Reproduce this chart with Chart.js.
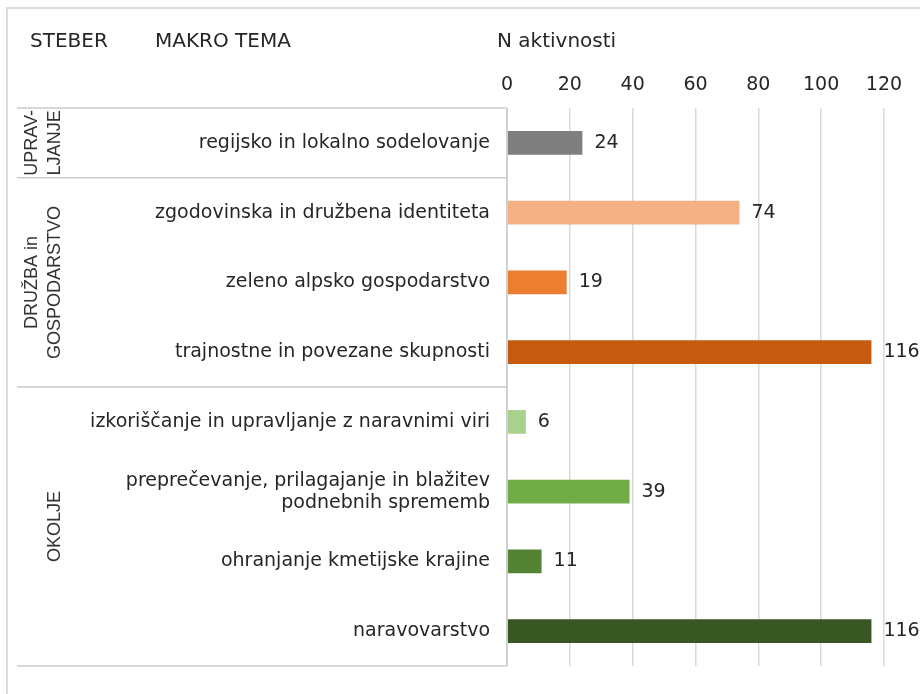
<!DOCTYPE html>
<html>
<head>
<meta charset="utf-8">
<script src="https://cdn.jsdelivr.net/npm/chart.js@4/dist/chart.umd.min.js"></script>
<style>
  body { margin: 0; background: #fff; }
  #wrap { width: 920px; height: 694px; position: relative; }
</style>
</head>
<body>
<div id="wrap"><canvas id="aktChart" width="920" height="694"></canvas></div>
<script>
// makro teme, po stebrih
var categories = [
  'regijsko in lokalno sodelovanje',
  'zgodovinska in družbena identiteta',
  'zeleno alpsko gospodarstvo',
  'trajnostne in povezane skupnosti',
  'izkoriščanje in upravljanje z naravnimi viri',
  ['preprečevanje, prilagajanje in blažitev', 'podnebnih sprememb'],
  'ohranjanje kmetijske krajine',
  'naravovarstvo'
];
var counts = [24, 74, 19, 116, 6, 39, 11, 116];
var barColors = ['#7f7f7f', '#f4b183', '#ed7d31', '#c55a11', '#a9d18e', '#70ad47', '#548235', '#385723'];

// stebri: napis, prva in zadnja tema
var groupLabels = [['UPRAV-', 'LJANJE'], ['DRUŽBA in', 'GOSPODARSTVO'], ['OKOLJE']];
var groupFirst = [0, 1, 4];
var groupLast = [0, 3, 7];

var tickValues = [0, 20, 40, 60, 80, 100, 120];

var txt = '#262626';
var labelFont = 'DejaVu Sans';

// okvir, glava, tabela stebrov in vrednosti ob stolpcih
var tablePlugin = {
  id: 'tablePlugin',
  afterDraw: function(chart) {
    var ctx = chart.ctx;
    var area = chart.chartArea;
    var y = chart.scales.y;
    ctx.save();

    // zunanji okvir
    ctx.strokeStyle = '#dcdcdc';
    ctx.lineWidth = 2;
    ctx.beginPath();
    ctx.moveTo(7, 694);
    ctx.lineTo(7, 8);
    ctx.lineTo(920, 8);
    ctx.stroke();

    // glava
    ctx.fillStyle = txt;
    ctx.font = '20px ' + labelFont;
    ctx.textBaseline = 'middle';
    ctx.textAlign = 'left';
    ctx.fillText('STEBER', 30, 42);
    ctx.fillText('MAKRO TEMA', 155, 42);
    ctx.fillText('N aktivnosti', 497, 42);

    // tabela stebrov
    ctx.strokeStyle = '#cccccc';
    ctx.lineWidth = 1.5;
    var step = y.getPixelForValue(1) - y.getPixelForValue(0);
    ctx.beginPath();
    for (var g = 0; g < groupLabels.length; g++) {
      var top = y.getPixelForValue(groupFirst[g]) - step / 2;
      ctx.moveTo(17, top);
      ctx.lineTo(area.left, top);
    }
    ctx.moveTo(17, area.bottom);
    ctx.lineTo(area.left, area.bottom);
    ctx.moveTo(area.left, area.top);
    ctx.lineTo(area.left, area.bottom);
    ctx.stroke();

    ctx.fillStyle = '#333';
    ctx.font = '18px "Liberation Sans"';
    ctx.textAlign = 'center';
    for (var g = 0; g < groupLabels.length; g++) {
      var mid = (y.getPixelForValue(groupFirst[g]) + y.getPixelForValue(groupLast[g])) / 2;
      var lines = groupLabels[g];
      for (var k = 0; k < lines.length; k++) {
        var cx = 55 - (lines.length - 1 - k) * 23;
        ctx.save();
        ctx.translate(cx, mid);
        ctx.rotate(-Math.PI / 2);
        ctx.fillText(lines[k], 0, 0);
        ctx.restore();
      }
    }

    // vrednosti
    ctx.fillStyle = txt;
    ctx.font = '19px ' + labelFont;
    ctx.textAlign = 'left';
    var meta = chart.getDatasetMeta(0);
    meta.data.forEach(function(bar, i) {
      ctx.fillText(String(counts[i]), bar.x + 12, bar.y);
    });
    ctx.restore();
  }
};

var ctxA = document.getElementById('aktChart').getContext('2d');

var bar_config = {
  type: 'bar',
  data: {
    labels: categories,
    datasets: [{
      data: counts,
      backgroundColor: barColors,
      borderWidth: 0,
      categoryPercentage: 1,
      barPercentage: 0.34
    }]
  },
  options: {
    indexAxis: 'y',
    responsive: false,
    animation: false,
    layout: { padding: { top: 8, right: 36, bottom: 21, left: 0 } },
    plugins: {
      legend: { display: false },
      tooltip: { enabled: false }
    },
    scales: {
      x: {
        position: 'top',
        min: 0,
        max: 120,
        afterFit: function(scale) { scale.height = 100; },
        afterBuildTicks: function(scale) {
          scale.ticks = tickValues.map(function(v) { return { value: v }; });
        },
        ticks: {
          color: txt,
          padding: 12,
          font: { family: labelFont, size: 19 }
        },
        grid: { color: '#d9d9d9', lineWidth: 1.5, drawTicks: false },
        border: { display: false }
      },
      y: {
        afterFit: function(scale) { scale.width = 507; },
        ticks: {
          color: txt,
          padding: 17,
          font: { family: labelFont, size: 19, lineHeight: 1.15 }
        },
        grid: { display: false, drawTicks: false },
        border: { display: false }
      }
    }
  },
  plugins: [tablePlugin]
};

var aktChart = new Chart(ctxA, bar_config);
</script>
</body>
</html>
